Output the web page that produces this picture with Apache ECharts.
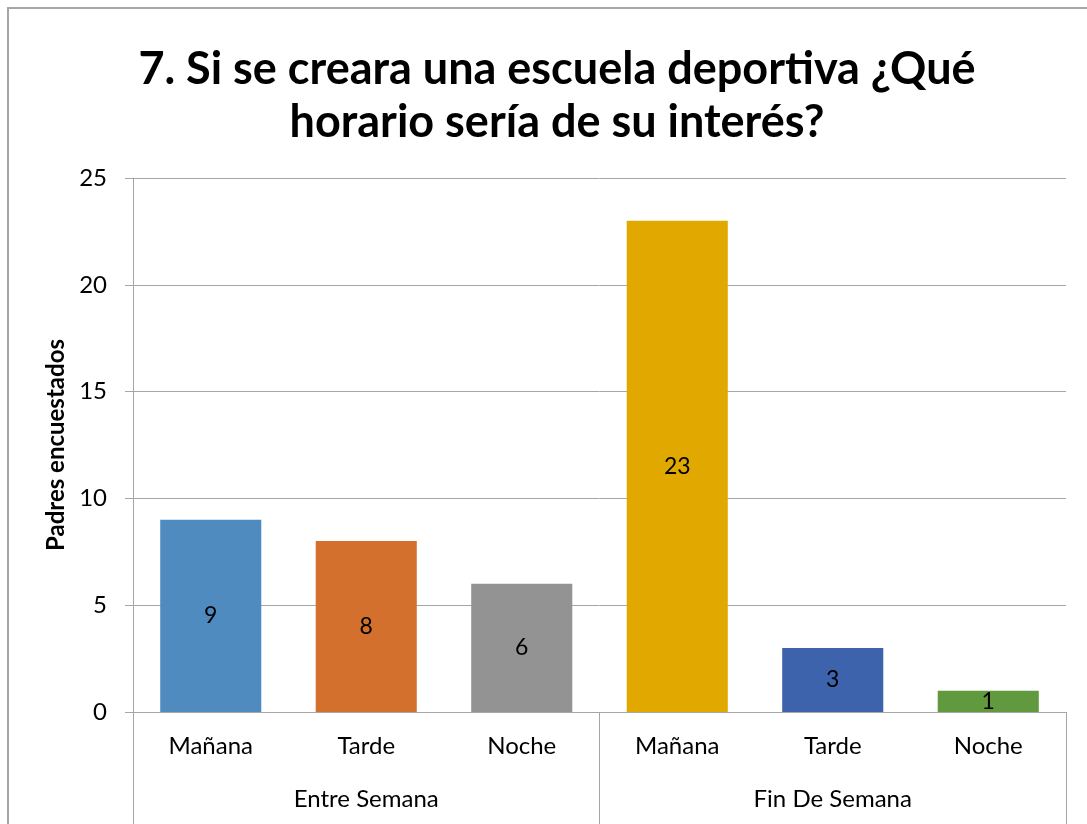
<!DOCTYPE html>
<html>
<head>
<meta charset="utf-8">
<title>Horario escuela deportiva</title>
<script src="https://cdn.jsdelivr.net/npm/echarts@6/dist/echarts.min.js"></script>
<style>
  html, body { margin: 0; padding: 0; background: #fff; }
  #main { width: 1087px; height: 824px; }
</style>
</head>
<body>
<div id="main"></div>
<script>
// datos
var horarios = ['Mañana', 'Tarde', 'Noche', 'Mañana', 'Tarde', 'Noche'];
var grupos = ['Entre Semana', 'Fin De Semana'];
var padres = [9, 8, 6, 23, 3, 1];
var colores = ['#4f8bbe', '#d4702d', '#939393', '#e1a900', '#3c63ac', '#619a3e'];
var ticksY = [0, 5, 10, 15, 20, 25];

var fuente = 'Lato, "Open Sans", sans-serif';
var myChart = echarts.init(document.getElementById('main'));

var option = {
  backgroundColor: '#fff',
  animation: false,
  title: {
    text: '7. Si se creara una escuela deportiva ¿Qué\nhorario sería de su interés?',
    left: 552,
    top: 38,
    textAlign: 'center',
    textStyle: {
      fontFamily: fuente,
      fontSize: 45,
      fontWeight: 'bold',
      color: '#000',
      lineHeight: 53
    }
  },
  // marco del gráfico
  graphic: [{
    type: 'rect',
    shape: { x: 8, y: 8, width: 1200, height: 1000 },
    style: { fill: 'none', stroke: '#a6a6a6', lineWidth: 2 },
    silent: true
  }],
  grid: { left: 133, right: 21, top: 178, bottom: 112 },
  xAxis: [{
    type: 'category',
    data: horarios,
    position: 'bottom',
    axisLine: { show: true, lineStyle: { color: '#a6a6a6', width: 1 } },
    axisTick: { show: false },
    axisLabel: { fontFamily: fuente, fontSize: 24, color: '#000', margin: 22 }
  }, {
    type: 'category',
    data: grupos,
    position: 'bottom',
    axisLine: { show: false },
    axisTick: { show: true, length: 115, alignWithLabel: false, lineStyle: { color: '#a6a6a6' } },
    axisLabel: { fontFamily: fuente, fontSize: 24, color: '#000', margin: 75 },
    splitLine: { show: false }
  }],
  yAxis: {
    type: 'value',
    min: ticksY[0],
    max: ticksY[ticksY.length - 1],
    interval: 5,
    name: 'Padres encuestados',
    nameLocation: 'middle',
    nameRotate: 90,
    nameGap: 60,
    nameTextStyle: { fontFamily: fuente, fontSize: 24, fontWeight: 'bold', color: '#000' },
    axisLine: { show: true, lineStyle: { color: '#a6a6a6' } },
    axisTick: { show: true, length: 8, lineStyle: { color: '#a6a6a6' } },
    axisLabel: { fontFamily: fuente, fontSize: 24, color: '#000', margin: 26 },
    splitLine: { lineStyle: { color: '#a6a6a6', width: 1 } }
  },
  series: [{
    name: 'Padres encuestados',
    type: 'bar',
    xAxisIndex: 0,
    barCategoryGap: '35%',
    data: padres.map(function (v, i) {
      return { value: v, itemStyle: { color: colores[i] } };
    }),
    label: {
      show: true,
      position: 'inside',
      fontFamily: fuente,
      fontSize: 23,
      color: '#000'
    }
  }]
};

myChart.setOption(option);
</script>
</body>
</html>
